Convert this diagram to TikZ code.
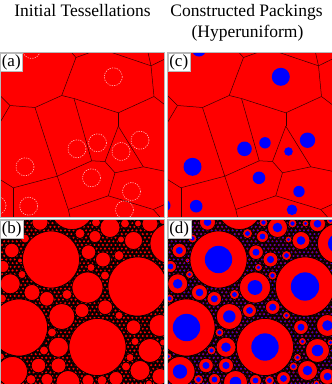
\documentclass[tikz,border=0pt]{standalone}
\usepackage{fontspec}
\setmainfont{Liberation Serif}

\def\panelsize{164.5}
% seed points of the cells (x/y/radius of the packed disk)
\def\cellseeds{31.5/-3/7, 113.3/24.3/9, 25/114.3/9, 77/96.3/7.3, 97.5/90.3/5.7, 121/99/4.3, 140/87.7/7.7, 91.5/125.3/6.3, 131.5/139/5.7, 28.7/153.7/6.3, 124.5/157.3/5.3, -3/153/6}
% disks of the packing (x/y/radius)
\def\disklist{72/-12/22, 51/40/28.5, 137.5/67/29.5, 19/108/28.5, 97.5/127.5/28.5, 170/24/20, 12.5/152/15, 68/163/12, 87.5/68/15.5, 61.8/97/13, 10.2/64.3/10, 32/73/8, 46.8/79.3/7.3, 133.5/21/9, 150/4.3/8, 40/2.7/8, 11.8/31/7.3, 105.2/87.7/7.3, 103/40/7.5, 88.5/32.7/7.3, 140/151/10, 133.5/107.7/7.3, 150/131/12, 58.5/127.7/10, 58.5/146/7.5, 38.5/146/7.3, 3/47/6, 25/19/4.5, 80/14/5, 110/8/10, 119/36/5, 91/48/4, 119/96/4, 82/91/7, 67/75/5, 2/79/4.5, 31/160/5, 47/160/6, 88/161/6, 116/159/7, 130/138/4, 160/157/8, 160/106/11, 125/4/4.5, 22/55/4, 95/17/6, 20/41/2.5, 121/20/3.5, 105/56/4.5, 52/113/4.5, 44/131/4.5, 102/161/5, 126/147/4.5, 135/122/4, 163/123/3.5, 149/164/3.5, 1/137/3.5, 96/3/4.5, 163/1/4, 138/4/3.5}

\def\cellwalls{
  \coordinate (v1) at (76,5);
  \coordinate (v2) at (61.7,43);
  \coordinate (v3) at (35,55);
  \coordinate (v4) at (10,53);
  \coordinate (v5) at (74,46);
  \coordinate (v6) at (118.3,60.3);
  \coordinate (v7) at (154,44);
  \coordinate (v8) at (151,13.3);
  \coordinate (v9) at (118.3,73.7);
  \coordinate (v10) at (105,109);
  \coordinate (v11) at (91.7,108.3);
  \coordinate (v12) at (57.3,123.7);
  \coordinate (v13) at (13.3,135.3);
  \coordinate (v14) at (115,120.3);
  \coordinate (v15) at (143.3,114.3);
  \coordinate (v16) at (108.3,143.3);
  \coordinate (v17) at (68.3,157);
  \coordinate (v18) at (153.3,157);
  % where the walls leave the frame
  \coordinate (e1) at (71.5,0);
  \coordinate (e2) at (90,0);
  \coordinate (e3) at (111.7,0);
  \coordinate (e4) at (148,0);
  \coordinate (e5) at (\panelsize,6.7);
  \coordinate (e6) at (\panelsize,52);
  \coordinate (e7) at (\panelsize,118.7);
  \coordinate (e8) at (\panelsize,152);
  \coordinate (e9) at (160,\panelsize);
  \coordinate (e10) at (70,\panelsize);
  \coordinate (e11) at (13.3,\panelsize);
  \coordinate (e12) at (0,127);
  \coordinate (e13) at (0,70);
  \coordinate (e14) at (0,43);
  \foreach \a/\b in {e1/v1, v1/e2, v1/v2, e3/v8, v8/e4, v8/e5, v8/v7, v7/e6, v7/v6,
    v6/v5, v5/v2, v2/v3, v3/v4, v4/e14, v4/e13, v3/v12, v5/v11, v11/v12, v11/v10,
    v6/v9, v9/v10, v9/v15, v10/v14, v14/v15, v15/e7, v14/v16, v16/v18, v18/e8,
    v18/e9, v16/v17, v12/v13, v13/e12, v13/e11, v12/v17, v17/e10}
  \draw[wall] (\a) -- (\b);
}

\begin{document}
\begin{tikzpicture}[x=1pt,y=-1pt]
  \tikzstyle{frame}=[draw=gray!55,line width=0.5pt]
  \tikzstyle{wall}=[draw=black!80!red,line width=0.5pt]
  \tikzstyle{ghost}=[draw=red!25!white,line width=0.6pt,dash pattern=on 1.2pt off 1.2pt]
  \tikzstyle{seed}=[fill=blue]
  \tikzstyle{disk}=[fill=red,draw=black,line width=0.7pt]
  \tikzstyle{grain}=[fill=red,draw=black,line width=0.5pt]
  \tikzstyle{tag}=[fill=white,draw=gray!55,anchor=north west,inner sep=1.6pt,
    font=\fontsize{17}{17}\selectfont]
  \tikzstyle{head}=[anchor=base,font=\fontsize{17.5}{20}\selectfont]

  \useasboundingbox (0,0) rectangle (332,384);

  % Column titles
  \node[head] (ti) at (82.5,16) {Initial Tessellations};
  \node[head] (tc) at (246.5,16) {Constructed Packings};
  \node[head] (th) at (247.5,37) {(Hyperuniform)};

  % (a) tessellation with the largest inscribed circles
  \begin{scope}[shift={(0,52.5)}]
    \begin{scope}
      \clip (0,0) rectangle (\panelsize,\panelsize);
      \fill[red] (0,0) rectangle (\panelsize,\panelsize);
      \cellwalls
      \foreach \cx/\cy/\r in \cellseeds
      \draw[ghost] (\cx,\cy) circle (9);
    \end{scope}
    \draw[frame] (0,0) rectangle (\panelsize,\panelsize);
    \node[tag] (la) at (0,0) {(a)};
  \end{scope}

  % (c) same cells with packed disks
  \begin{scope}[shift={(167.5,52.5)}]
    \begin{scope}
      \clip (0,0) rectangle (\panelsize,\panelsize);
      \fill[red] (0,0) rectangle (\panelsize,\panelsize);
      \cellwalls
      \foreach \cx/\cy/\r in \cellseeds
      \fill[seed] (\cx,\cy) circle (\r);
    \end{scope}
    \draw[frame] (0,0) rectangle (\panelsize,\panelsize);
    \node[tag] (lc) at (0,0) {(c)};
  \end{scope}

  % (b) polydisperse disk tessellation
  \begin{scope}[shift={(0,219.5)}]
    \begin{scope}
      \clip (0,0) rectangle (\panelsize,\panelsize);
      \fill[black] (0,0) rectangle (\panelsize,\panelsize);
      \foreach \j in {0,...,45}
      \foreach \i in {0,...,39}
      \filldraw[grain] ({\i*4.2+mod(\j,2)*2.1},{\j*3.64}) circle (1.75);
      \foreach \cx/\cy/\r in \disklist
      \filldraw[disk] (\cx,\cy) circle (\r);
    \end{scope}
    \draw[frame] (0,0) rectangle (\panelsize,\panelsize);
    \node[tag] (lb) at (0,0) {(b)};
  \end{scope}

  % (d) disks with packed cores
  \begin{scope}[shift={(167.5,219.5)}]
    \begin{scope}
      \clip (0,0) rectangle (\panelsize,\panelsize);
      \fill[black] (0,0) rectangle (\panelsize,\panelsize);
      \foreach \j in {0,...,45}
      \foreach \i in {0,...,39} {
        \filldraw[grain] ({\i*4.2+mod(\j,2)*2.1},{\j*3.64}) circle (1.75);
        \fill[seed] ({\i*4.2+mod(\j,2)*2.1},{\j*3.64}) circle (0.8);
      }
      \foreach \cx/\cy/\r in \disklist {
        \filldraw[disk] (\cx,\cy) circle (\r);
        \fill[seed] (\cx,\cy) circle ({0.48*\r});
      }
    \end{scope}
    \draw[frame] (0,0) rectangle (\panelsize,\panelsize);
    \node[tag] (ld) at (0,0) {(d)};
  \end{scope}
\end{tikzpicture}
\end{document}
